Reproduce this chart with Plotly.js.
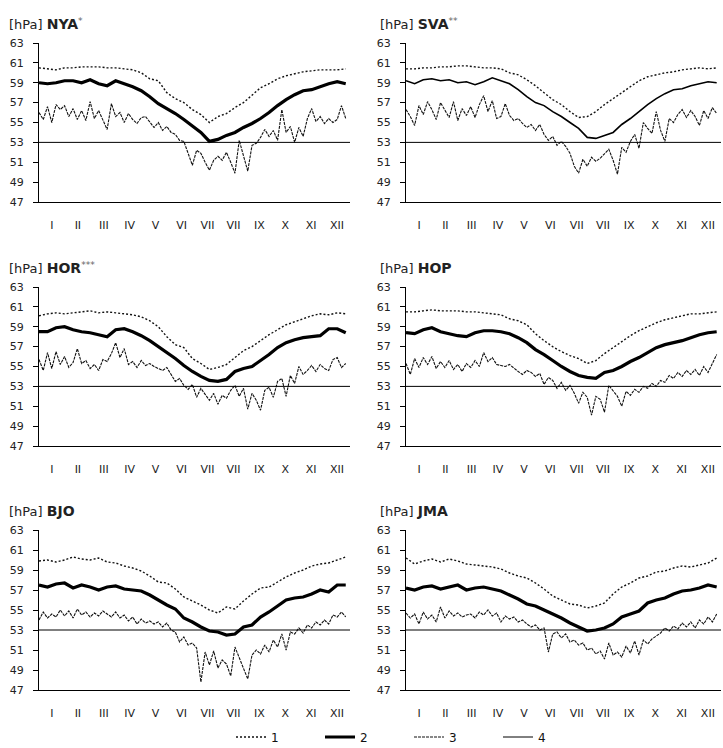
<!DOCTYPE html>
<html><head><meta charset="utf-8">
<script src="https://cdn.plot.ly/plotly-3.0.1.min.js"></script>
<style>html,body{margin:0;padding:0;background:#fff}#chart{width:723px;height:748px}</style>
</head><body><div id="chart"></div>
<script>
// ---- data ----
const monthLabels = ["I","II","III","IV","V","VI","VII","VII","IX","X","XI","XII"];
const stations = ["NYA","SVA","HOR","HOP","BJO","JMA"];
const stationMarks = ["*","**","***","","",""];
const seriesNames = ["1","2","3","4"];
const threshold = 53;
const daysSmooth = [0,10,20,30,40,50,60,70,80,90,100,110,120,130,140,150,160,170,180,190,200,210,220,230,240,250,260,270,280,290,300,310,320,330,340,350,360];
const daysNoisy = [0,5,10,15,20,25,30,35,40,45,50,55,60,65,70,75,80,85,90,95,100,105,110,115,120,125,130,135,140,145,150,155,160,165,170,175,180,185,190,195,200,205,210,215,220,225,230,235,240,245,250,255,260,265,270,275,280,285,290,295,300,305,310,315,320,325,330,335,340,345,350,355,360];

const nya1 = [60.5,60.4,60.3,60.5,60.5,60.6,60.6,60.6,60.5,60.5,60.4,60.3,60.0,59.4,59.2,58.0,57.4,57.0,56.3,55.8,55.0,55.6,55.9,56.5,57.0,57.8,58.5,58.9,59.4,59.7,59.9,60.1,60.2,60.3,60.3,60.3,60.4];
const nya2 = [59.0,58.9,59.0,59.2,59.2,59.0,59.3,58.9,58.7,59.2,58.9,58.6,58.2,57.6,56.9,56.4,55.9,55.3,54.6,54.0,53.1,53.3,53.7,54.0,54.5,54.9,55.4,56.0,56.7,57.3,57.8,58.2,58.3,58.6,58.9,59.1,58.9];
const nya3 = [56.0,55.3,56.6,55.0,56.8,56.3,56.7,55.6,56.4,55.3,56.2,55.2,57.1,55.4,56.2,55.3,54.3,56.9,55.6,56.0,55.0,55.9,55.3,54.9,55.5,55.6,55.0,54.5,55.0,54.2,54.6,54.0,53.8,53.2,53.1,51.9,50.7,52.2,51.9,51.0,50.2,51.2,51.6,51.2,52.0,51.0,49.9,53.2,51.5,50.1,52.7,52.9,53.5,54.3,53.6,54.2,53.2,56.3,54.0,54.6,53.0,54.5,53.6,55.4,56.4,55.1,55.6,54.9,55.4,55.0,55.3,56.7,55.4];

const sva1 = [60.4,60.4,60.5,60.5,60.6,60.6,60.7,60.7,60.6,60.5,60.5,60.4,60.0,59.8,59.3,58.7,58.0,57.3,56.8,56.1,55.5,55.6,56.1,56.8,57.4,58.0,58.6,59.2,59.6,59.8,60.0,60.1,60.3,60.4,60.5,60.4,60.5];
const sva2 = [59.2,58.9,59.3,59.4,59.2,59.3,59.0,59.1,58.8,59.1,59.5,59.2,58.9,58.3,57.6,57.0,56.7,56.1,55.6,55.0,54.4,53.5,53.4,53.7,54.0,54.8,55.4,56.1,56.8,57.4,57.9,58.3,58.4,58.7,58.9,59.1,59.0];
const sva3 = [56.3,55.6,54.7,56.7,55.8,57.1,56.3,55.3,57.0,56.2,55.5,57.1,55.2,56.4,55.7,56.6,55.5,56.8,57.7,56.1,57.2,55.4,55.6,56.9,55.7,55.2,55.4,54.9,54.5,54.8,54.2,54.8,53.8,53.2,53.6,52.7,53.1,52.6,51.9,50.6,49.9,51.3,50.6,51.5,51.1,51.4,51.9,52.3,51.2,49.8,52.5,52.0,53.1,53.8,52.4,55.0,54.4,53.9,56.1,54.2,53.1,55.4,55.0,55.8,56.3,55.5,56.2,55.6,54.7,56.2,55.4,56.5,55.9];

const hor1 = [60.1,60.3,60.4,60.3,60.4,60.5,60.6,60.4,60.5,60.4,60.3,60.2,60.0,59.6,59.0,58.0,57.2,56.9,55.8,55.3,54.7,54.9,55.2,55.9,56.6,57.0,57.6,58.2,58.7,59.2,59.5,59.8,60.1,60.3,60.2,60.4,60.3];
const hor2 = [58.5,58.5,58.9,59.0,58.7,58.5,58.4,58.2,58.0,58.7,58.8,58.5,58.1,57.6,57.0,56.4,55.8,55.1,54.5,54.0,53.6,53.5,53.7,54.5,54.8,55.0,55.6,56.2,56.9,57.4,57.7,57.9,58.0,58.1,58.8,58.8,58.4];
const hor3 = [55.7,54.6,56.4,54.8,56.5,55.2,56.0,54.9,55.4,56.8,55.3,55.6,54.8,55.2,54.6,55.7,55.5,56.3,57.4,55.9,56.8,55.2,55.5,54.9,55.6,55.1,55.3,55.0,54.8,54.6,54.9,54.2,53.5,53.8,53.1,52.7,53.2,51.9,52.8,52.2,51.6,52.3,51.2,52.1,51.8,52.6,53.1,52.0,52.8,50.7,52.3,51.6,50.6,52.6,52.9,51.9,53.5,53.8,52.0,54.1,53.3,55.0,54.2,54.6,55.1,54.5,55.2,54.8,54.6,55.7,55.9,54.9,55.3];

const hop1 = [60.5,60.5,60.6,60.7,60.6,60.6,60.6,60.5,60.5,60.4,60.3,60.2,59.8,59.6,59.2,58.3,57.6,57.0,56.5,56.1,55.8,55.3,55.6,56.3,56.9,57.5,58.1,58.6,59.0,59.4,59.7,59.9,60.1,60.3,60.3,60.4,60.5];
const hop2 = [58.4,58.3,58.7,58.9,58.5,58.3,58.1,58.0,58.4,58.6,58.6,58.5,58.3,57.9,57.4,56.7,56.2,55.6,55.0,54.5,54.1,53.9,53.8,54.4,54.6,55.0,55.5,55.9,56.4,56.9,57.2,57.4,57.6,57.9,58.2,58.4,58.5];
const hop3 = [55.3,54.2,55.8,54.9,55.9,55.2,56.0,54.8,55.5,54.9,55.6,54.7,55.2,54.5,55.3,54.9,55.6,55.0,56.4,55.5,55.9,55.2,55.1,55.0,55.2,54.8,54.5,54.2,54.6,54.4,54.0,54.3,53.2,53.9,53.6,52.8,53.4,52.6,53.1,52.3,51.3,52.4,51.9,50.1,52.0,51.7,50.4,53.1,52.6,52.0,51.0,52.5,52.1,52.7,52.4,53.0,52.8,53.3,53.0,53.6,53.4,54.1,53.8,54.4,54.0,54.6,54.2,54.7,54.1,55.0,54.4,55.3,56.2];

const bjo1 = [59.9,60.0,59.8,60.0,60.3,60.1,60.0,60.2,59.8,59.7,59.4,59.2,58.9,58.4,57.8,57.7,57.1,56.3,55.9,55.5,55.0,54.7,55.3,55.1,55.9,56.6,57.2,57.3,57.8,58.3,58.7,59.0,59.4,59.6,59.7,60.0,60.3];
const bjo2 = [57.5,57.3,57.6,57.7,57.2,57.5,57.3,57.0,57.3,57.4,57.1,57.0,56.9,56.5,56.0,55.5,55.1,54.2,53.8,53.3,52.9,52.8,52.5,52.6,53.3,53.5,54.3,54.8,55.4,56.0,56.2,56.3,56.6,57.0,56.8,57.5,57.5];
const bjo3 = [54.0,54.8,54.2,54.6,54.3,55.0,54.4,54.9,54.2,55.1,54.5,54.8,54.3,54.7,54.4,54.9,54.6,54.3,54.8,54.2,54.5,53.9,54.3,53.6,54.1,53.7,53.9,53.6,53.8,53.3,53.7,53.0,52.8,51.8,52.3,51.5,51.7,51.2,47.8,50.8,49.5,50.9,49.2,50.0,49.6,48.4,51.3,50.2,49.0,48.1,50.5,51.0,50.6,51.5,50.8,52.0,51.3,52.6,51.0,52.8,52.6,53.2,52.7,53.5,53.2,53.8,53.5,54.0,53.6,54.5,54.3,54.8,54.3];

const jma1 = [60.2,59.6,59.9,60.1,59.8,60.1,59.9,59.6,59.5,59.4,59.3,59.1,58.7,58.4,58.2,57.7,57.1,56.4,56.0,55.6,55.5,55.2,55.4,55.7,56.6,57.3,57.7,58.2,58.4,58.8,58.9,59.2,59.4,59.3,59.5,59.7,60.2];
const jma2 = [57.2,57.0,57.3,57.4,57.1,57.3,57.5,57.0,57.2,57.3,57.1,56.9,56.5,56.1,55.6,55.4,55.0,54.6,54.2,53.7,53.3,52.9,53.0,53.2,53.6,54.3,54.6,54.9,55.7,56.0,56.2,56.6,56.9,57.0,57.2,57.5,57.3];
const jma3 = [54.7,54.2,54.6,53.6,54.8,54.1,54.5,53.8,55.3,54.2,54.9,54.4,54.7,54.3,54.5,54.6,54.2,54.8,54.5,55.0,54.4,54.7,53.8,54.4,54.1,54.3,53.8,54.0,53.6,53.3,53.5,53.0,53.2,50.8,52.6,52.8,52.2,52.6,51.8,52.0,51.5,51.7,51.0,51.2,50.6,50.9,50.1,51.7,50.5,50.8,50.3,51.4,50.7,51.9,50.5,52.0,51.6,52.1,52.4,52.7,53.2,52.9,53.4,53.1,53.7,53.3,53.8,53.2,54.0,53.6,54.3,53.8,54.6];

const upper = [nya1, sva1, hor1, hop1, bjo1, jma1];
const mean  = [nya2, sva2, hor2, hop2, bjo2, jma2];
const lower = [nya3, sva3, hor3, hop3, bjo3, jma3];

// ---- layout ----
const W = 723, H = 748;
const colPx = [[39, 350], [406, 721]];
const rowPx = [[43, 202], [287, 446], [530, 690]];
const titleY = [24, 268, 511];
const titleX = [7, 378];
const FONT = "DejaVu Sans, Arial, sans-serif";
const xRange = [0, 365];
const tickPos = monthLabels.map((m, i) => (i + 0.5) * 365 / 12);

const traces = [];
const layout = {
  width: W, height: H,
  margin: {l: 0, r: 0, t: 0, b: 0, autoexpand: false},
  paper_bgcolor: "#fff", plot_bgcolor: "rgba(0,0,0,0)",
  font: {family: FONT, color: "#111"},
  showlegend: true,
  legend: {
    orientation: "h", xref: "container", yref: "container",
    x: 231 / W, xanchor: "left", y: 1 - 737 / H, yanchor: "middle",
    font: {family: FONT, size: 12, color: "#111"},
    entrywidth: 44, entrywidthmode: "pixels",
    bgcolor: "rgba(0,0,0,0)", traceorder: "normal"
  },
  annotations: []
};

for (let i = 0; i < 6; i++) {
  const col = i % 2, row = Math.floor(i / 2);
  const sfx = i === 0 ? "" : String(i + 1);
  const xa = "x" + sfx, ya = "y" + sfx;
  const leg = i === 0;
  traces.push({
    x: daysSmooth, y: upper[i], xaxis: xa, yaxis: ya, type: "scatter", mode: "lines",
    name: seriesNames[0], showlegend: leg, legendrank: 1,
    line: {color: "#111", width: 1.4, dash: "2px,2px"}, hoverinfo: "skip"
  });
  traces.push({
    x: daysSmooth, y: mean[i], xaxis: xa, yaxis: ya, type: "scatter", mode: "lines",
    name: seriesNames[1], showlegend: leg, legendrank: 2,
    line: {color: "#000", width: i === 1 ? 1.6 : 3.2}, hoverinfo: "skip"
  });
  traces.push({
    x: daysNoisy, y: lower[i], xaxis: xa, yaxis: ya, type: "scatter", mode: "lines",
    name: seriesNames[2], showlegend: leg, legendrank: 3,
    line: {color: "#111", width: 1.1, dash: "3px,1px"}, hoverinfo: "skip"
  });
  traces.push({
    x: xRange, y: [threshold, threshold], xaxis: xa, yaxis: ya, type: "scatter", mode: "lines",
    name: seriesNames[3], showlegend: leg, legendrank: 4,
    line: {color: "#000", width: 1}, hoverinfo: "skip"
  });

  layout["xaxis" + sfx] = {
    domain: [colPx[col][0] / W, colPx[col][1] / W], anchor: ya,
    range: xRange, fixedrange: true, automargin: false,
    showgrid: false, zeroline: false, showline: true, linecolor: "#000", linewidth: 1,
    ticks: "", tickmode: "array", tickvals: tickPos, ticktext: monthLabels,
    tickfont: {family: FONT, size: 11, color: "#222"}, ticklabelstandoff: 13
  };
  layout["yaxis" + sfx] = {
    domain: [1 - rowPx[row][1] / H, 1 - rowPx[row][0] / H], anchor: xa,
    range: [47, 63], fixedrange: true, automargin: false,
    showgrid: false, zeroline: false, showline: true, linecolor: "#000", linewidth: 1,
    ticks: "outside", ticklen: 5, tickcolor: "#000", tickwidth: 1,
    tickmode: "linear", tick0: 47, dtick: 2,
    tickfont: {family: FONT, size: 11, color: "#222"}, ticklabelstandoff: 7
  };
  const mark = stationMarks[i] ? '<sup><span style="color:#666">' + stationMarks[i] + '</span></sup>' : '';
  layout.annotations.push({
    xref: "paper", yref: "paper", x: titleX[col] / W, y: 1 - titleY[row] / H,
    xanchor: "left", yanchor: "middle", showarrow: false,
    text: '[hPa] <span style="font-size:14px"><b>' + stations[i] + '</b></span>' + mark,
    font: {family: FONT, size: 13, color: "#222"}
  });
}

Plotly.newPlot("chart", traces, layout, {staticPlot: true, displayModeBar: false});
</script>
</body></html>
